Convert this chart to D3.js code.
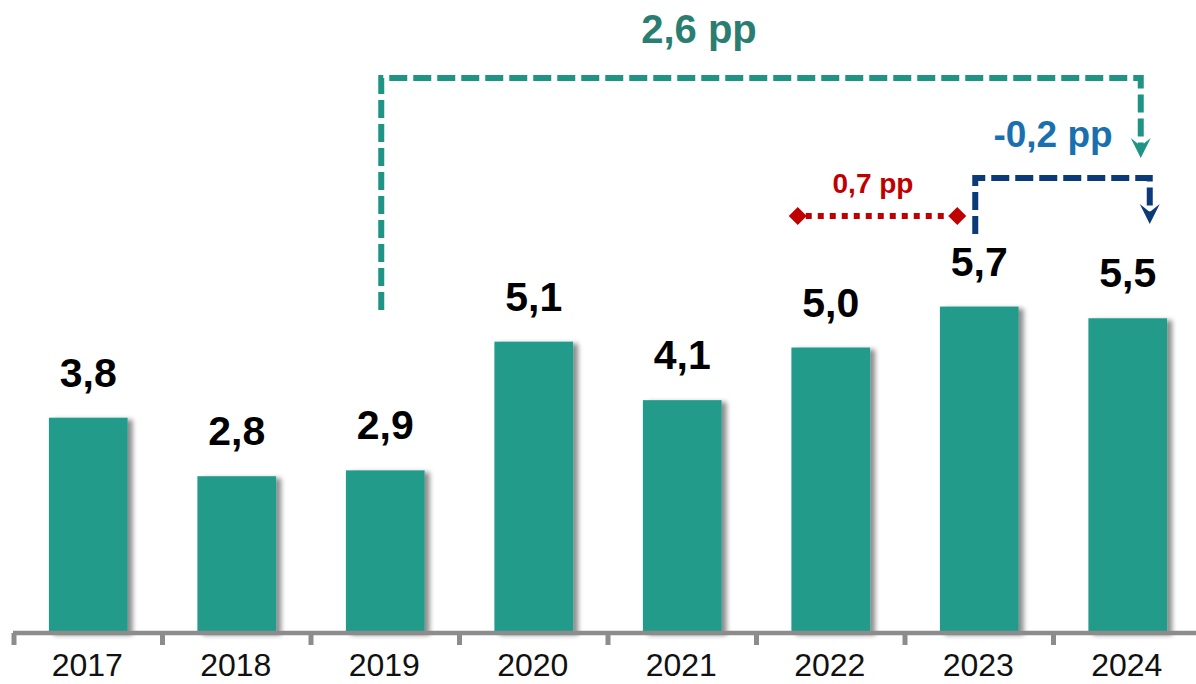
<!DOCTYPE html>
<html><head><meta charset="utf-8">
<script src="https://cdn.jsdelivr.net/npm/d3@7/dist/d3.min.js"></script>
<style>html,body{margin:0;padding:0;background:#fff;}svg{display:block;font-family:"Liberation Sans",Arial,sans-serif;}</style>
</head><body>
<svg id="chart" width="1196" height="684"></svg>
<script>
const years = ["2017","2018","2019","2020","2021","2022","2023","2024"];
const values = [3.8, 2.8, 2.9, 5.1, 4.1, 5.0, 5.7, 5.5];
const valueLabels = ["3,8","2,8","2,9","5,1","4,1","5,0","5,7","5,5"];
const annotationLabels = ["2,6 pp", "-0,2 pp", "0,7 pp"];

const W = 1196, H = 684;
const svg = d3.select("#chart");
const x = d3.scaleBand().domain(years).range([13, 1201]).padding(0);
const y = d3.scaleLinear().domain([0.12, 10]).range([633, 55]);
const barW = x.bandwidth() * 0.53;
const cx = d => x(d) + x.bandwidth() / 2 + 1;

const defs = svg.append("defs");
const f = defs.append("filter").attr("id","shadow").attr("x","-20%").attr("y","-20%").attr("width","150%").attr("height","140%");
f.append("feDropShadow").attr("dx",5).attr("dy",2).attr("stdDeviation",2.5).attr("flood-color","#000").attr("flood-opacity",0.45);

const barColor = "#209b8b";
svg.append("g").selectAll("rect").data(years).join("rect")
  .attr("x", (d) => cx(d) - barW/2)
  .attr("y", (d,i) => y(values[i]))
  .attr("width", barW)
  .attr("height", (d,i) => y(0.12) - y(values[i]))
  .attr("fill", barColor)
  .attr("filter","url(#shadow)");

// value labels
svg.append("g").selectAll("text").data(years).join("text")
  .attr("x", d => cx(d))
  .attr("y", (d,i) => y(values[i]) - 31)
  .attr("text-anchor","middle")
  .attr("font-size", 41).attr("font-weight","bold").attr("fill","#000")
  .text((d,i) => valueLabels[i]);

// axis
const axis = d3.axisBottom(x).tickSize(0).tickPadding(0);
const ag = svg.append("g").attr("transform","translate(0,633)").call(axis);
ag.select(".domain").attr("stroke","#8c8c8c").attr("stroke-width",4.5).attr("d","M13,0H1201");
ag.selectAll(".tick line").remove();
ag.selectAll(".tick text").attr("font-size",32).attr("fill","#111").attr("font-family","'Liberation Sans',Arial,sans-serif").attr("dy",0).attr("y",43);
// boundary ticks
const bounds = years.map(d => x(d)).concat([x(years[years.length-1]) + x.step()]);
svg.append("g").selectAll("line").data(bounds).join("line")
  .attr("x1", d => d + 1).attr("x2", d => d + 1)
  .attr("y1", 633).attr("y2", 645)
  .attr("stroke","#8c8c8c").attr("stroke-width",5);

// annotations
const teal = "#1f9484", navy = "#0b3a78", red = "#c00000";
const arrowPath = "M-10,-20L0,0L10,-20L0,-12Z";

// teal bracket 2019 -> 2024
const tL = cx("2019") - 4, tR = cx("2024") + 13;
svg.append("path").attr("d", `M${tL},310V78H${tR}V146`)
  .attr("fill","none").attr("stroke",teal).attr("stroke-width",6).attr("stroke-dasharray","18,6");
svg.append("path").attr("d", arrowPath).attr("transform",`translate(${tR},158)`).attr("fill",teal);
svg.append("text").attr("x", 699).attr("y", 43).attr("text-anchor","middle")
  .attr("font-size",40).attr("font-weight","bold").attr("fill","#2a7e71").text(annotationLabels[0]);

// navy bracket 2023 -> 2024
const nL = cx("2023") - 4, nR = cx("2024") + 22;
svg.append("path").attr("d", `M${nL},234V178H${nR}V212`)
  .attr("fill","none").attr("stroke",navy).attr("stroke-width",6).attr("stroke-dasharray","18,6");
svg.append("path").attr("d", arrowPath).attr("transform",`translate(${nR},224)`).attr("fill",navy);
svg.append("text").attr("x", 1053).attr("y", 147).attr("text-anchor","middle")
  .attr("font-size",37).attr("font-weight","bold").attr("fill","#1a6fae").text(annotationLabels[1]);

// red dotted 2022 -> 2023
const rL = cx("2022") - 33, rR = cx("2023") - 22;
svg.append("line").attr("x1", rL + 8).attr("x2", rR - 8).attr("y1",216).attr("y2",216)
  .attr("stroke",red).attr("stroke-width",6).attr("stroke-dasharray","6,6");
svg.append("g").selectAll("path").data([rL, rR]).join("path")
  .attr("d","M0,-9L9,0L0,9L-9,0Z").attr("transform", d => `translate(${d},216)`).attr("fill",red);
svg.append("text").attr("x", 873).attr("y", 193).attr("text-anchor","middle")
  .attr("font-size",28).attr("font-weight","bold").attr("fill",red).text(annotationLabels[2]);
</script>
</body></html>
